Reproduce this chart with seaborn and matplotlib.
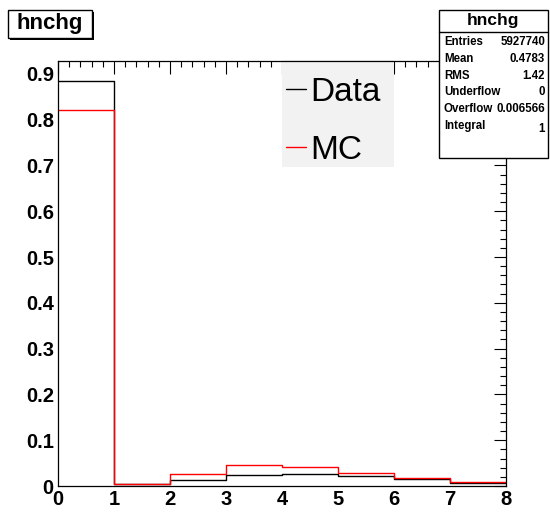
import numpy as np
import pandas as pd
import matplotlib
matplotlib.use("Agg")
import matplotlib.pyplot as plt
from matplotlib.lines import Line2D
from matplotlib.patches import Rectangle
from matplotlib.ticker import MultipleLocator, FuncFormatter
import seaborn as sns

# bin edges of hnchg and normalised contents
bin_edges = [0, 1, 2, 3, 4, 5, 6, 7, 8]
data_vals = [0.884, 0.004, 0.0125, 0.0248, 0.0255, 0.022, 0.016, 0.007]
mc_vals = [0.822, 0.005, 0.0255, 0.045, 0.041, 0.029, 0.017, 0.0087]

stat_names = ["Entries", "Mean", "RMS", "Underflow", "Overflow", "Integral"]
stat_values = ["5927740", "0.4783", "1.42", "0", "0.006566", "1"]

sns.set_style("white")
plt.rcParams['font.family'] = ['Liberation Sans', 'DejaVu Sans']
plt.rcParams['text.color'] = 'black'

centers = np.array(bin_edges[:-1]) + 0.5
df = pd.DataFrame({
    "x": np.concatenate([centers, centers]),
    "w": data_vals + mc_vals,
    "src": ["Data"] * len(centers) + ["MC"] * len(centers),
})

W, H = 550, 512
fig = plt.figure(figsize=(5.5, 5.12), dpi=100)
ax = fig.add_axes([58 / W, 1 - 486 / H, (506 - 58) / W, (486 - 61) / H])

sns.histplot(data=df[df.src == "Data"], x="x", weights="w", bins=bin_edges,
             element="step", fill=False, color="black", linewidth=1, ax=ax)
sns.histplot(data=df[df.src == "MC"], x="x", weights="w", bins=bin_edges,
             element="step", fill=False, color="red", linewidth=1, ax=ax)

ax.set_xlim(0, 8)
ax.set_ylim(0, 0.928)
ax.set_xlabel("")
ax.set_ylabel("")
ax.xaxis.set_major_locator(MultipleLocator(1))
ax.xaxis.set_minor_locator(MultipleLocator(0.2))
ax.yaxis.set_major_locator(MultipleLocator(0.1))
ax.yaxis.set_minor_locator(MultipleLocator(0.02))
ax.yaxis.set_major_formatter(FuncFormatter(lambda v, p: f"{v:g}"))
ax.tick_params(which="both", direction="in", top=True, right=True, colors="black")
ax.tick_params(which="major", length=9, width=0.8, labelsize=14.5, pad=3)
ax.tick_params(which="minor", length=4.5, width=0.8)
for lab in ax.get_xticklabels() + ax.get_yticklabels():
    lab.set_fontweight("bold")
for sp in ax.spines.values():
    sp.set_color("black")
    sp.set_linewidth(0.9)

# legend: grey panel, then entries on top of it
ax.add_patch(Rectangle((282 / W, 1 - 167 / H), 112 / W, 107 / H, transform=fig.transFigure,
                       facecolor="#f2f2f2", edgecolor="none", clip_on=False, zorder=2.4))
handles = [Line2D([], [], color="black", lw=1), Line2D([], [], color="red", lw=1)]
leg = ax.legend(handles, ["Data", "MC"], loc="upper left",
                bbox_to_anchor=(286 / W, 1 - 77 / H), bbox_transform=fig.transFigure,
                fontsize=24, handlelength=0.6, handletextpad=0.12, labelspacing=0.8,
                borderpad=0, borderaxespad=0, frameon=False)
leg.set_zorder(5)
for t in leg.get_texts():
    t.set_color("black")

# title box with shadow
fig.patches.append(Rectangle((10 / W, 1 - 40 / H), 84 / W, 28 / H, transform=fig.transFigure,
                             facecolor="black", edgecolor="none", zorder=5))
fig.patches.append(Rectangle((8 / W, 1 - 38 / H), 84 / W, 28 / H, transform=fig.transFigure,
                             facecolor="white", edgecolor="black", lw=1, zorder=6))
fig.text(50 / W, 1 - 24 / H, "hnchg", ha="center", va="center", fontsize=16,
         fontweight="bold", zorder=7)

# stats box
fig.patches.append(Rectangle((439 / W, 1 - 158 / H), 109 / W, 148 / H, transform=fig.transFigure,
                             facecolor="white", edgecolor="black", lw=1, zorder=6))
fig.add_artist(Line2D([439 / W, 548 / W], [1 - 32 / H, 1 - 32 / H], transform=fig.transFigure,
                      color="black", lw=1, zorder=7))
fig.text(493 / W, 1 - 21 / H, "hnchg", ha="center", va="center", fontsize=12.5,
         fontweight="bold", zorder=8)
row_y = [42, 59, 76, 92, 109, 126]
for name, val, y in zip(stat_names, stat_values, row_y):
    fig.text(444 / W, 1 - y / H, name, ha="left", va="center", fontsize=8.3,
             fontweight="bold", zorder=8)
    fig.text(545 / W, 1 - (y + (3 if name == "Integral" else 0)) / H, val, ha="right",
             va="center", fontsize=8.3, fontweight="bold", zorder=8)

fig.savefig("out.png", dpi=100)
